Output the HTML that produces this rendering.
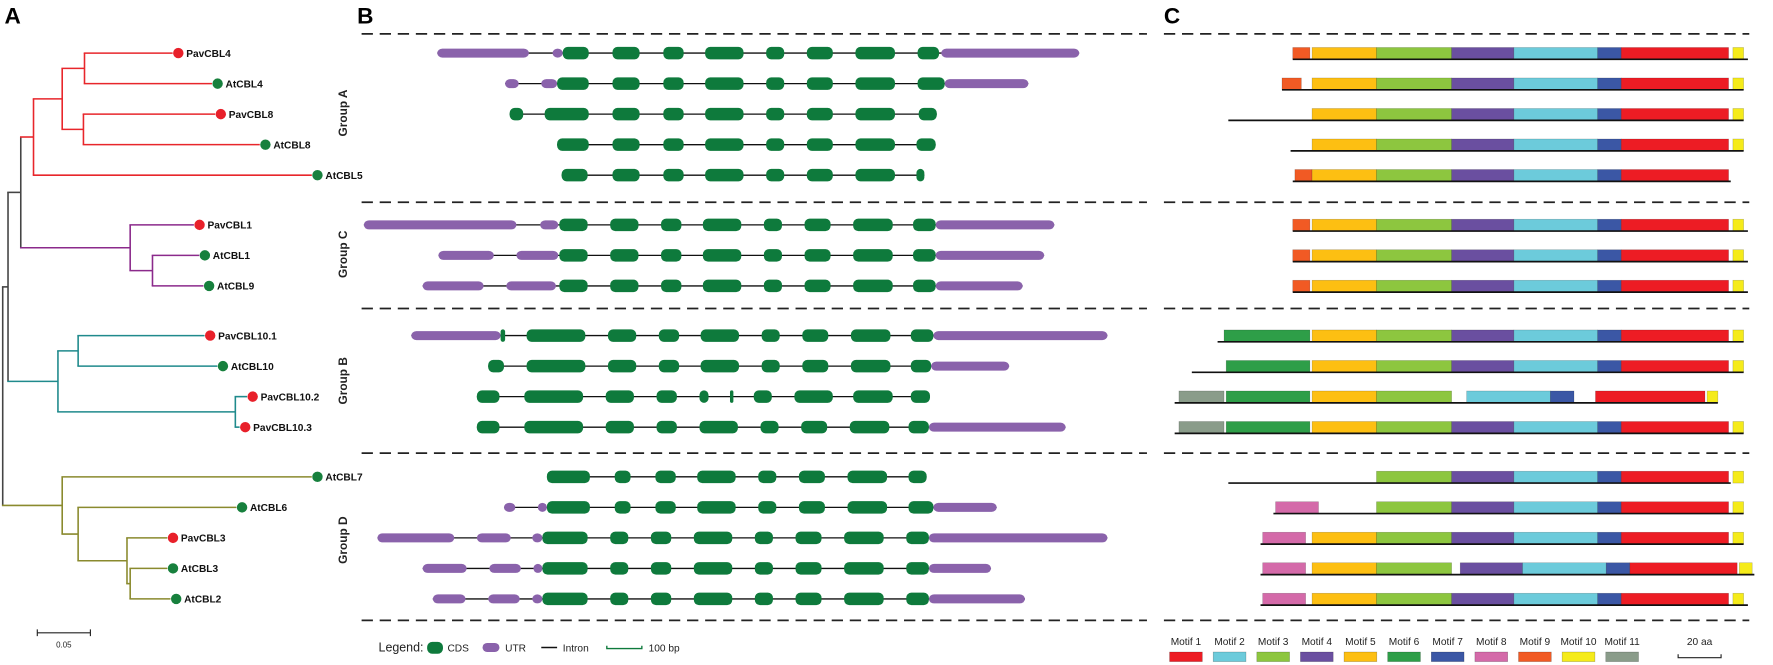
<!DOCTYPE html>
<html><head><meta charset="utf-8"><style>
html,body{margin:0;padding:0;background:#fff;}
svg{display:block;}
text{font-family:"Liberation Sans",Arial,sans-serif;}
</style></head><body>
<svg id="fig" xmlns="http://www.w3.org/2000/svg" width="1773" height="665" viewBox="0 0 1569 588.5" preserveAspectRatio="none">
<text x="4" y="21" font-size="20" font-weight="bold">A</text>
<text x="316" y="21" font-size="20" font-weight="bold">B</text>
<text x="1030" y="21" font-size="20" font-weight="bold">C</text>
<g id="tree"></g>
<g id="genes"></g>
<g id="motifs"></g>
<g id="legends"></g>
</svg>
<script>
// ---------- data ----------
const leafNames = ["PavCBL4","AtCBL4","PavCBL8","AtCBL8","AtCBL5","PavCBL1","AtCBL1","AtCBL9","PavCBL10.1","AtCBL10","PavCBL10.2","PavCBL10.3","AtCBL7","AtCBL6","PavCBL3","AtCBL3","AtCBL2"];
const leafGroup = [0,0,0,0,0,1,1,1,2,2,2,2,3,3,3,3,3];
const leafDepth = [0.160,0.197,0.200,0.242,0.291,0.180,0.185,0.189,0.190,0.202,0.230,0.223,0.291,0.220,0.155,0.155,0.158];
const groupNames = ["Group A","Group C","Group B","Group D"];
const RED="#e8262b",PUR="#8b2a8b",TEAL="#1f8a8c",OLV="#8a8a2e",BLK="#444";
const L = i => ({leaf:i});
const tree = {d:0,c:BLK,k:[
  {d:0.005,c:BLK,k:[
    {d:0.017,c:BLK,k:[
      {d:0.029,c:RED,k:[{d:0.056,k:[{d:0.077,k:[L(0),L(1)]},{d:0.076,k:[L(2),L(3)]}]},L(4)]},
      {d:0.120,c:PUR,k:[L(5),{d:0.141,k:[L(6),L(7)]}]}]},
    {d:0.052,c:TEAL,k:[{d:0.071,k:[L(8),L(9)]},{d:0.219,k:[L(10),L(11)]}]}]},
  {d:0.056,c:OLV,k:[L(12),{d:0.071,k:[L(13),{d:0.117,k:[L(14),{d:0.120,k:[L(15),L(16)]}]}]}]}]};

// gene structures (bp) : [type, start, end]  E = CDS, U = UTR
const midA = [[1110,1230],[1335,1425],[1520,1690],[1790,1870],[1970,2085],[2185,2360]];
const exC = [[875,1000],[1100,1225],[1325,1415],[1510,1680],[1780,1860],[1960,2075],[2175,2350],[2440,2540]];
const exB = [[730,990],[1090,1215],[1315,1405],[1500,1670],[1770,1850],[1950,2065],[2165,2340]];
const exD1 = [[820,1010],[1120,1190],[1300,1390],[1485,1655],[1755,1835],[1935,2050],[2150,2325]];
const exD2 = [[800,1000],[1100,1180],[1280,1370],[1470,1640],[1740,1820],[1920,2035],[2135,2310],[2410,2510]];
const E = a => a.map(p=>["E",p[0],p[1]]);
const genes = [
  [["U",335,740],["U",845,890],["E",890,1005],...E(midA),["E",2460,2555],["U",2565,3175]],
  [["U",635,695],["U",795,865],["E",865,1005],...E(midA),["E",2460,2580],["U",2580,2950]],
  [["E",655,715],["E",810,1005],...E(midA),["E",2465,2545]],
  [["E",865,1005],...E(midA),["E",2455,2540]],
  [["E",885,1000],...E(midA),["E",2455,2490]],
  [["U",10,685],["U",790,870],...E(exC),["U",2540,3065]],
  [["U",340,585],["U",685,870],...E(exC),["U",2540,3020]],
  [["U",270,540],["U",640,860],...E(exC),["U",2540,2925]],
  [["U",220,615],["E",615,635],...E(exB),["E",2430,2530],["U",2530,3300]],
  [["E",560,630],...E(exB),["E",2430,2520],["U",2520,2865]],
  [["E",510,610],["E",720,980],["E",1080,1205],["E",1305,1395],["E",1495,1535],["E",1630,1645],["E",1735,1815],["E",1915,2085],["E",2175,2350],["E",2430,2515]],
  [["E",510,610],["E",720,980],["E",1080,1205],["E",1305,1395],["E",1495,1665],["E",1765,1845],["E",1945,2060],["E",2160,2335],["E",2420,2510],["U",2510,3115]],
  [...E(exD1),["E",2420,2500]],
  [["U",630,680],["U",780,820],...E(exD1),["E",2420,2530],["U",2530,2810]],
  [["U",70,410],["U",510,660],["U",755,800],...E(exD2),["U",2510,3300]],
  [["U",270,465],["U",565,705],["U",760,800],...E(exD2),["U",2510,2785]],
  [["U",315,460],["U",560,700],["U",755,800],...E(exD2),["U",2510,2935]]
];

// motifs (aa): protein span and [motif, start, end]
const motifColors = ["#ed1c24","#6ccbdb","#8dc63f","#6a4fa0","#fdbf12","#2e9e48","#3b57a5","#d46aa9","#f15a24","#f5eb1a","#8a9c8a"];
const core = [[5,69,99],[3,99,134],[4,134,163],[2,163,202],[7,202,213],[1,213,263]];
const proteinSpan = [[60,272],[55,270],[30,270],[59,270],[60,264],[60,272],[60,272],[60,272],[25,270],[13,270],[5,258],[5,270],[30,264],[51,270],[45,270],[45,275],[45,272]];
const motifRows = [
  [[9,60,68],...core,[10,265,270]],
  [[9,55,64],...core,[10,265,270]],
  [...core,[10,265,270]],
  [...core,[10,265,270]],
  [[9,61,69],...core],
  [[9,60,68],...core,[10,265,270]],
  [[9,60,68],...core,[10,265,270]],
  [[9,60,68],...core,[10,265,270]],
  [[6,28,68],...core,[10,265,270]],
  [[6,29,68],...core,[10,265,270]],
  [[11,7,28],[6,29,68],[5,69,99],[3,99,134],[2,141,180],[7,180,191],[1,201,252],[10,253,258]],
  [[11,7,28],[6,29,68],...core,[10,265,270]],
  [[3,99,134],[4,134,163],[2,163,202],[7,202,213],[1,213,263],[10,265,270]],
  [[8,52,72],[3,99,134],[4,134,163],[2,163,202],[7,202,213],[1,213,263],[10,265,270]],
  [[8,46,66],...core,[10,265,270]],
  [[8,46,66],[5,69,99],[3,99,134],[4,138,167],[2,167,206],[7,206,217],[1,217,267],[10,268,274]],
  [[8,46,66],...core,[10,265,270]]
];

// ---------- helpers ----------
const NS="http://www.w3.org/2000/svg";
function mk(tag,attrs,parent){const e=document.createElementNS(NS,tag);for(const k in attrs)e.setAttribute(k,attrs[k]);parent.appendChild(e);return e;}
const rowY = i => 47 + i*27 + leafGroup[i]*17;
const treeX = d => 2.4 + d*940;
const bpX = bp => 320 + bp/5;
const aaX = aa => 1030 + aa*1.9;

// ---------- tree ----------
const gT=document.getElementById('tree');
function layout(n,col){
  n.col = n.c||col;
  if(n.leaf!==undefined){n.y=rowY(n.leaf);n.x=treeX(leafDepth[n.leaf]);return;}
  n.x=treeX(n.d);
  n.k.forEach(ch=>layout(ch,n.col));
  n.y=(n.k[0].y+n.k[n.k.length-1].y)/2;
}
layout(tree,BLK);
function draw(n){
  if(n.leaf!==undefined)return;
  const v=mk('line',{x1:n.x,x2:n.x,y1:n.k[0].y,y2:n.k[n.k.length-1].y,stroke:n.col,'stroke-width':1.4},gT);
  
  
  n.k.forEach(ch=>{
    const h=mk('line',{x1:n.x-0.7,x2:ch.x,y1:ch.y,y2:ch.y,stroke:ch.col,'stroke-width':1.4},gT);
    
    
    draw(ch);
  });
}
draw(tree);
leafNames.forEach((nm,i)=>{
  const x=treeX(leafDepth[i])+5, y=rowY(i);
  const isPav=nm.startsWith("Pav");
  const c=mk('circle',{cx:x,cy:y,r:4.6,fill:isPav?"#e8202a":"#17803d"},gT);
  
  
  const t=mk('text',{x:x+7,y:y+3.3,'font-size':9,'font-weight':'bold',fill:'#111'},gT);
  t.textContent=nm;
  
  
});
const sb=mk('path',{d:"M33,560 H80 M33,557 V563 M80,557 V563",stroke:'#222','stroke-width':1,fill:'none'},gT);


const sbt=mk('text',{x:56.5,y:573,'font-size':7,'text-anchor':'middle',fill:'#222'},gT);
sbt.textContent="0.05";



// ---------- dashed separators ----------
const gL=document.getElementById('legends');
[30,179,273,401,549].forEach(y=>{
  [[320,1015],[1030,1548]].forEach(r=>{
    const l=mk('line',{x1:r[0],x2:r[1],y1:y,y2:y,stroke:'#222','stroke-width':1.5,'stroke-dasharray':'10 6'},gL);
    
    
  });
});
[[0,100],[1,225],[2,337],[3,478]].forEach(g=>{
  const t=mk('text',{x:0,y:0,'font-size':10.5,'font-weight':'bold','text-anchor':'middle',transform:`translate(307,${g[1]}) rotate(-90)`,fill:'#222'},gL);
  t.textContent=groupNames[g[0]];
  
  
});

// ---------- gene structures ----------
const gG=document.getElementById('genes');
genes.forEach((segs,i)=>{
  const y=rowY(i);
  const mn=Math.min(...segs.map(s=>s[1])), mx=Math.max(...segs.map(s=>s[2]));
  const ln=mk('line',{x1:bpX(mn),x2:bpX(mx),y1:y,y2:y,stroke:'#111','stroke-width':1.2},gG);
  
  
  segs.forEach(s=>{
    const h=s[0]==="E"?11:8;
    const r=mk('rect',{x:bpX(s[1]),y:y-h/2,width:Math.max(2,bpX(s[2])-bpX(s[1])),height:h,rx:Math.min(4.5,(bpX(s[2])-bpX(s[1]))/2),fill:s[0]==="E"?"#0e7a3c":"#8a62ab"},gG);
    
    
  });
});
// B legend
(function(){
  const y=573;
  const t1=mk('text',{x:335,y:y+3.5,'font-size':11,'font-family':'"Liberation Serif",serif',fill:'#222'},gL);t1.textContent="Legend:";
  
  const a=mk('rect',{x:378,y:y-5,width:14,height:10.5,rx:4.5,fill:'#0e7a3c'},gL);
  
  const t2=mk('text',{x:396,y:y+3.5,'font-size':9,fill:'#222'},gL);t2.textContent="CDS";
  
  const b=mk('rect',{x:427,y:y-4,width:15,height:8,rx:4,fill:'#8a62ab'},gL);
  
  const t3=mk('text',{x:447,y:y+3.5,'font-size':9,fill:'#222'},gL);t3.textContent="UTR";
  
  const c=mk('line',{x1:479,x2:493,y1:y,y2:y,stroke:'#111','stroke-width':1.3},gL);
  
  const t4=mk('text',{x:498,y:y+3.5,'font-size':9,fill:'#222'},gL);t4.textContent="Intron";
  
  const d=mk('path',{d:`M${bpX(1085)},${y-1.5} V${y+1} H${bpX(1240)} V${y-1.5}`,stroke:'#0e7a3c','stroke-width':1.2,fill:'none'},gL);
  
  const t5=mk('text',{x:574,y:y+3.5,'font-size':9,fill:'#222'},gL);t5.textContent="100 bp";
  
})();

// ---------- motifs ----------
const gM=document.getElementById('motifs');
motifRows.forEach((row,i)=>{
  const base=rowY(i)+5.5;
  row.forEach(m=>{
    const r=mk('rect',{x:aaX(m[1]),y:base-10.5,width:aaX(m[2])-aaX(m[1]),height:10.5,fill:motifColors[m[0]-1],stroke:'rgba(0,0,0,0.25)','stroke-width':0.5},gM);
    
    
  });
  const ln=mk('line',{x1:aaX(proteinSpan[i][0]),x2:aaX(proteinSpan[i][1]),y1:base,y2:base,stroke:'#111','stroke-width':1.5},gM);
  
  
});
motifColors.forEach((c,i)=>{
  const x=1035+i*38.6;
  const t=mk('text',{x:x+14.5,y:571,'font-size':9,'text-anchor':'middle',fill:'#222'},gL);
  t.textContent="Motif "+(i+1);
  
  
  const r=mk('rect',{x:x,y:577,width:29,height:8.5,fill:c,stroke:'rgba(0,0,0,0.3)','stroke-width':0.5},gL);
  
  
});
const s2=mk('path',{d:`M${aaX(239.5)},579 V582 H${aaX(259.5)} V579`,stroke:'#222','stroke-width':1,fill:'none'},gL);


const s2t=mk('text',{x:1504,y:571,'font-size':9,'text-anchor':'middle',fill:'#222'},gL);
s2t.textContent="20 aa";


</script>
</body></html>
